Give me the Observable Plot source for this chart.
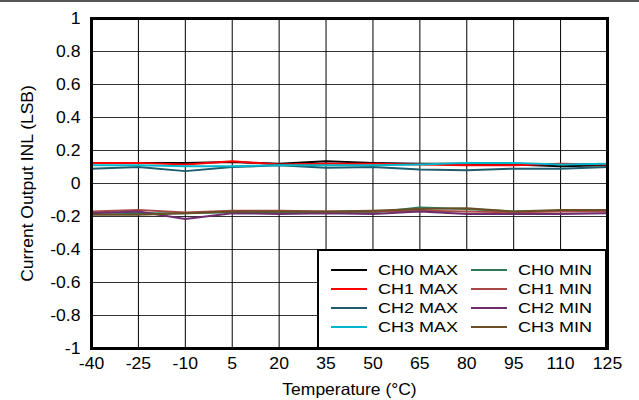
<!DOCTYPE html>
<html>
<head>
<meta charset="utf-8">
<script src="https://cdn.jsdelivr.net/npm/d3@7"></script>
<script src="https://cdn.jsdelivr.net/npm/@observablehq/plot@0.6"></script>
<style>
  html, body { margin: 0; padding: 0; background: #fff; }
  #wrap { position: relative; width: 639px; height: 400px; font-family: "Liberation Sans", Arial, sans-serif; }
  #wrap svg text { font-size: 16px; fill: #000; }
  #wrap svg text.axlabel { font-size: 16.5px; }
  #topline { position: absolute; left: 0; top: 0; width: 639px; height: 2px; background: #555; }
  #legend { position: absolute; left: 317px; top: 249px; width: 286px; height: 96px; border: 2px solid #000; background: #fff; box-sizing: content-box; }
  .item { position: absolute; display: flex; align-items: center; font-size: 15.5px; color: #000; }
  .sw { width: 36px; height: 0; border-top: 2.5px solid; margin-right: 11px; }
  .item span { display: inline-block; transform: scaleX(1.16); transform-origin: left center; }
</style>
</head>
<body>
<div id="wrap"><div id="topline"></div><div id="legend"></div></div>
<script>
const temps = [-40, -25, -10, 5, 20, 35, 50, 65, 80, 95, 110, 125];
const seriesNames = ["CH0 MAX", "CH1 MAX", "CH2 MAX", "CH3 MAX", "CH0 MIN", "CH1 MIN", "CH2 MIN", "CH3 MIN"];
const seriesColors = ["#000000", "#ff0000", "#1d5c6c", "#00b7cb", "#2f7a55", "#a84848", "#6e2e6c", "#6a4f26"];
const ch0Max = [0.125, 0.125, 0.125, 0.13, 0.12, 0.135, 0.125, 0.12, 0.12, 0.115, 0.105, 0.11];
const ch1Max = [0.125, 0.125, 0.115, 0.135, 0.115, 0.12, 0.12, 0.115, 0.11, 0.11, 0.12, 0.115];
const ch2Max = [0.09, 0.1, 0.075, 0.1, 0.11, 0.095, 0.1, 0.085, 0.08, 0.09, 0.09, 0.1];
const ch3Max = [0.11, 0.11, 0.105, 0.105, 0.11, 0.11, 0.11, 0.115, 0.125, 0.125, 0.115, 0.12];
const ch0Min = [-0.175, -0.18, -0.18, -0.175, -0.175, -0.175, -0.175, -0.145, -0.155, -0.17, -0.165, -0.165];
const ch1Min = [-0.17, -0.16, -0.175, -0.165, -0.165, -0.17, -0.17, -0.165, -0.17, -0.175, -0.17, -0.17];
const ch2Min = [-0.18, -0.17, -0.215, -0.18, -0.185, -0.18, -0.185, -0.17, -0.185, -0.185, -0.185, -0.18];
const ch3Min = [-0.19, -0.19, -0.18, -0.17, -0.17, -0.17, -0.165, -0.155, -0.15, -0.17, -0.16, -0.16];
const yTicks = [-1, -0.8, -0.6, -0.4, -0.2, 0, 0.2, 0.4, 0.6, 0.8, 1];
const xLabel = "Temperature (°C)";
const yLabel = "Current Output INL (LSB)";

const allSeries = [ch0Max, ch1Max, ch2Max, ch3Max, ch0Min, ch1Min, ch2Min, ch3Min];
const rows = [];
allSeries.forEach((vals, i) => vals.forEach((v, j) => rows.push({series: seriesNames[i], t: temps[j], v})));

const chart = Plot.plot({
  width: 639,
  height: 400,
  marginLeft: 91,
  marginRight: 32,
  marginTop: 18,
  marginBottom: 52,
  style: {fontFamily: "'Liberation Sans', Arial, sans-serif", fontSize: "16px", color: "#000", background: "transparent"},
  x: {domain: [-40, 125], ticks: temps, tickSize: 0, tickPadding: 9, tickFormat: d => String(d), label: xLabel, labelAnchor: "center", labelArrow: "none", labelOffset: 46},
  y: {domain: [-1, 1], ticks: yTicks, tickSize: 0, tickPadding: 11, tickFormat: d => String(d), label: yLabel, labelAnchor: "center", labelArrow: "none", labelOffset: 70},
  color: {domain: seriesNames, range: seriesColors},
  marks: [
    Plot.ruleY(yTicks, {stroke: "#333", strokeWidth: 1, strokeOpacity: 1}),
    Plot.ruleX(temps, {stroke: "#000", strokeWidth: 1, strokeOpacity: 1}),
    Plot.line(rows, {x: "t", y: "v", z: "series", stroke: "series", strokeWidth: 2}),
    Plot.frame({stroke: "#000", strokeWidth: 3})
  ]
});
// widen text glyphs horizontally, like the reference
chart.querySelectorAll("text").forEach(t => {
  const isLabel = t.textContent === xLabel || t.textContent === yLabel;
  if (isLabel) t.classList.add("axlabel");
  let tr = t.getAttribute("transform") || "";
  const x = +(t.getAttribute("x") || 0), y = +(t.getAttribute("y") || 0);
  if (x || y) {
    tr = tr + ` translate(${x},${y})`;
    t.removeAttribute("x"); t.removeAttribute("y");
  }
  t.setAttribute("transform", tr + (isLabel ? " scale(1.06,1)" : " scale(1.1,1)"));
});
document.getElementById("wrap").prepend(chart);
chart.style.position = "absolute";
chart.style.left = "0";
chart.style.top = "0";

const legend = document.getElementById("legend");
seriesNames.forEach((name, i) => {
  const col = i < 4 ? 0 : 1;
  const row = i % 4;
  const el = document.createElement("div");
  el.className = "item";
  el.style.left = (12 + col * 140) + "px";
  el.style.top = (10 + row * 19) + "px";
  el.innerHTML = `<div class="sw" style="border-color:${seriesColors[i]}"></div><span>${name}</span>`;
  legend.appendChild(el);
});
</script>
</body>
</html>
